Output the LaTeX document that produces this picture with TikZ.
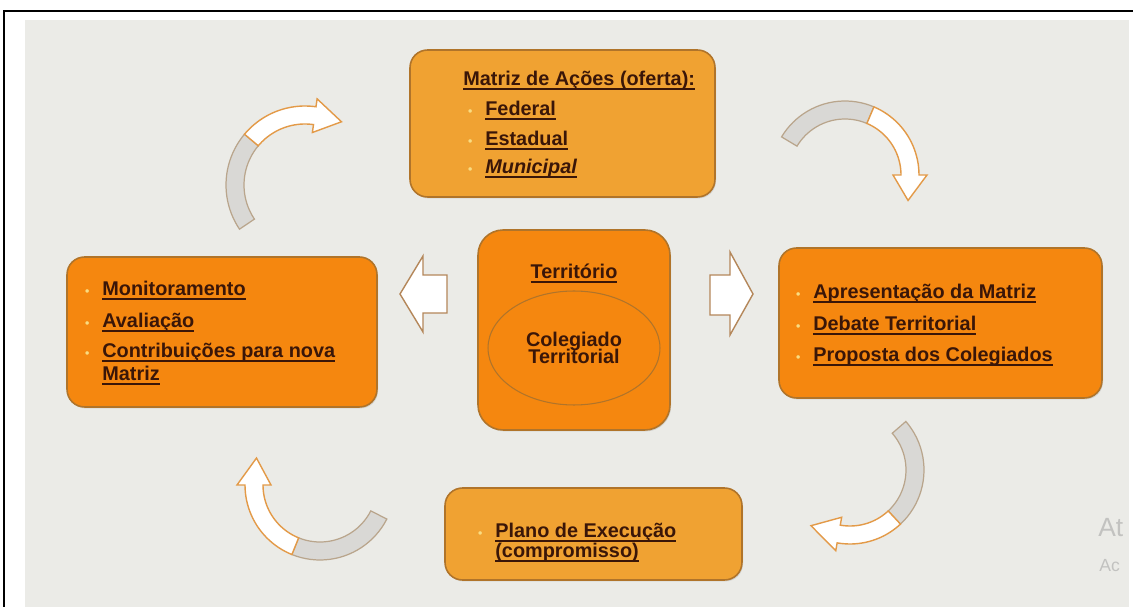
\documentclass[tikz,border=0pt]{standalone}
\usepackage{fontspec}
\setmainfont{Liberation Sans}
\usepackage{tikz}
\usetikzlibrary{shapes.geometric,shadows}

\definecolor{bgc}{HTML}{EBEBE7}
\definecolor{lightor}{HTML}{F0A232}
\definecolor{darkor}{HTML}{F5870F}
\definecolor{edgec}{HTML}{B0742A}
\definecolor{txtc}{HTML}{3A1608}
\definecolor{dotc}{HTML}{F9DC82}
\definecolor{grayband}{HTML}{D9D8D5}
\definecolor{grayedge}{HTML}{B9A58C}
\definecolor{whiteedge}{HTML}{E39A48}
\definecolor{blockedge}{HTML}{B4875A}
\definecolor{wmark}{HTML}{C2C2C0}

\newsavebox{\ulbox}
\newcommand{\ul}[1]{\sbox{\ulbox}{#1}\rlap{\rule[-2pt]{\wd\ulbox}{0.9pt}}\usebox{\ulbox}}
\newcommand{\itm}{\llap{\textcolor{dotc}{\fontsize{7}{7}\selectfont\textbullet}\hspace{0.26cm}}}

% bent arrow: cx, cy, r, tail, split, head base, tip (angles, y down)
\newcommand{\bentarrow}[7]{%
  \filldraw[bandgray] plot[domain=#4:#5, samples=24] ({#1+(#3+9)*cos(\x)}, {#2+(#3+9)*sin(\x)})
    -- plot[domain=#5:#4, samples=24] ({#1+(#3-9)*cos(\x)}, {#2+(#3-9)*sin(\x)}) -- cycle;
  \filldraw[bandwhite] plot[domain=#5:#6, samples=24] ({#1+(#3+9)*cos(\x)}, {#2+(#3+9)*sin(\x)})
    -- ({#1+(#3+17)*cos(#6)}, {#2+(#3+17)*sin(#6)})
    -- ({#1+(#3+3)*cos(#7)}, {#2+(#3+3)*sin(#7)})
    -- ({#1+(#3-17)*cos(#6)}, {#2+(#3-17)*sin(#6)})
    -- plot[domain=#6:#5, samples=24] ({#1+(#3-9)*cos(\x)}, {#2+(#3-9)*sin(\x)}) -- cycle;
}

\begin{document}
\begin{tikzpicture}[x=0.02cm, y=-0.02cm,
    box/.style={draw=edgec, line width=0.9pt, rounded corners=0.35cm,
                drop shadow={opacity=0.25, shadow xshift=0.6pt, shadow yshift=-0.8pt}},
    txt/.style={font=\bfseries\fontsize{11.3}{13}\selectfont, text=txtc, inner sep=0pt, anchor=base west},
    bandgray/.style={fill=grayband, draw=grayedge, line width=0.7pt},
    bandwhite/.style={fill=white, draw=whiteedge, line width=0.8pt},
    blockarrow/.style={fill=white, draw=blockedge, line width=0.8pt}]

    \useasboundingbox (0,0) rectangle (1133,607);
    \fill[bgc] (25,20) rectangle (1129,607);
    \draw[line width=1.2pt] (4,607) -- (4,11) -- (1133,11);

    % boxes: oferta avalia proposta terr plano
    \node[box, fill=lightor, minimum width=6.1cm, minimum height=2.94cm] (oferta) at (562.5,123.5) {};
    \node[box, fill=darkor, minimum width=6.2cm, minimum height=3cm] (avalia) at (222,332) {};
    \node[box, fill=darkor, minimum width=6.46cm, minimum height=3cm] (proposta) at (940.5,323) {};
    \node[box, fill=darkor, rounded corners=0.5cm, minimum width=3.84cm, minimum height=4cm] (terr) at (574,330) {};
    \node[box, fill=lightor, minimum width=5.94cm, minimum height=1.84cm] (plano) at (593.5,534) {};
    \node[draw=edgec, line width=0.6pt, ellipse, minimum width=3.44cm, minimum height=2.28cm,
          font=\bfseries\fontsize{11.3}{10}\selectfont, text=txtc, align=center] (coleg) at (574,348)
          {Colegiado\\[-1.5pt]Territorial};

    % texts: oferta
    \node[txt] (oferta0) at (463,86) {\ul{Matriz de Ações (oferta):}};
    \node[txt] (oferta1) at (485,116) {\itm\ul{Federal}};
    \node[txt] (oferta2) at (485,146) {\itm\ul{Estadual}};
    \node[txt] (oferta3) at (485,174) {\itm\ul{\itshape Municipal}};
    % texts: avalia
    \node[txt] (avalia1) at (102,296) {\itm\ul{Monitoramento}};
    \node[txt] (avalia2) at (102,328) {\itm\ul{Avaliação}};
    \node[txt] (avalia3) at (102,358) {\itm\ul{Contribuições para nova}};
    \node[txt] (avalia4) at (102,381) {\ul{Matriz}};
    % texts: proposta
    \node[txt] (proposta1) at (813,299) {\itm\ul{Apresentação da Matriz}};
    \node[txt] (proposta2) at (813,331) {\itm\ul{Debate Territorial}};
    \node[txt] (proposta3) at (813,362) {\itm\ul{Proposta dos Colegiados}};
    % texts: terr plano
    \node[txt, anchor=base] (terr0) at (574,279) {\ul{Território}};
    \node[txt] (plano1) at (495,538) {\itm\ul{Plano de Execução}};
    \node[txt] (plano2) at (495,558) {\ul{(compromisso)}};

    % block arrows
    \filldraw[blockarrow] (447,275) -- (423,275) -- (423,256) -- (400,294) -- (423,332) -- (423,313) -- (447,313) -- cycle;
    \filldraw[blockarrow] (710,275) -- (730,275) -- (730,252) -- (753,294) -- (730,335) -- (730,315) -- (710,315) -- cycle;

    % bent arrows
    \bentarrow{305}{185}{70}{146}{220}{278}{300}
    \bentarrow{845}{175}{65}{211}{293}{360}{382}
    \bentarrow{850}{470}{65}{-41}{47}{100}{125}
    \bentarrow{320}{485}{66}{27}{112}{180}{203}

    % watermark
    \begin{scope}
        \clip (25,20) rectangle (1129,607);
        \node[font=\fontsize{15}{17}\selectfont, text=wmark, inner sep=0pt, anchor=base west] (wmat) at (1098,537) {At};
        \node[font=\fontsize{10}{12}\selectfont, text=wmark, inner sep=0pt, anchor=base west] (wmac) at (1099,572) {Ac};
    \end{scope}
\end{tikzpicture}
\end{document}
